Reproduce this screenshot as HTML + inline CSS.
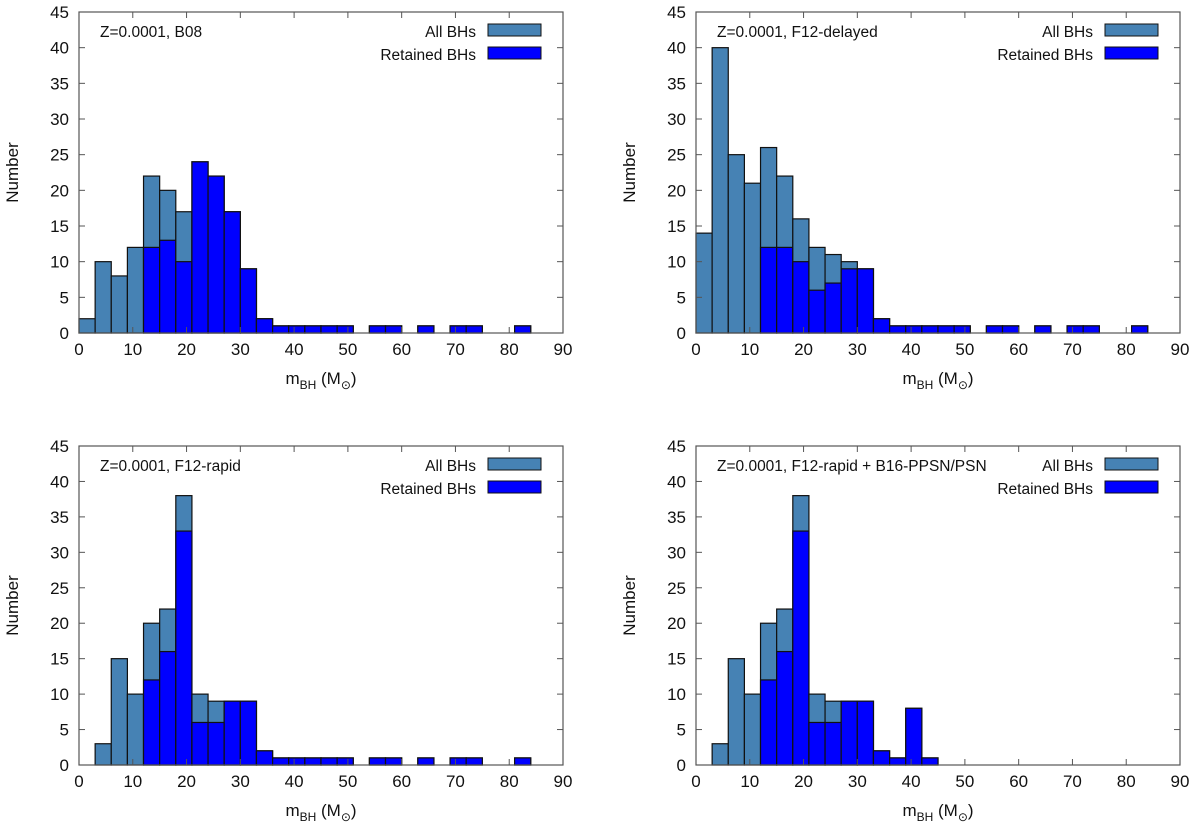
<!DOCTYPE html>
<html><head><meta charset="utf-8"><style>
body{margin:0;background:#fff;}
svg text{font-family:"Liberation Sans",sans-serif;}
</style></head><body>
<svg id="chart" width="1200" height="829" viewBox="0 0 1200 829" xmlns="http://www.w3.org/2000/svg"></svg>
<script>
const binStart = [0,3,6,9,12,15,18,21,24,27,30,33,36,39,42,45,48,51,54,57,60,63,66,69,72,75,78,81];
const allB08 =   [2,10,8,12,22,20,17,24,22,17,9,2,1,1,1,1,1,0,1,1,0,1,0,1,1,0,0,1];
const retB08 =   [0,0,0,0,12,13,10,24,22,17,9,2,1,1,1,1,1,0,1,1,0,1,0,1,1,0,0,1];
const allDel =   [14,40,25,21,26,22,16,12,11,10,9,2,1,1,1,1,1,0,1,1,0,1,0,1,1,0,0,1];
const retDel =   [0,0,0,0,12,12,10,6,7,9,9,2,1,1,1,1,1,0,1,1,0,1,0,1,1,0,0,1];
const allRap =   [0,3,15,10,20,22,38,10,9,9,9,2,1,1,1,1,1,0,1,1,0,1,0,1,1,0,0,1];
const retRap =   [0,0,0,0,12,16,33,6,6,9,9,2,1,1,1,1,1,0,1,1,0,1,0,1,1,0,0,1];
const allPsn =   [0,3,15,10,20,22,38,10,9,9,9,2,1,8,1,0,0,0,0,0,0,0,0,0,0,0,0,0];
const retPsn =   [0,0,0,0,12,16,33,6,6,9,9,2,1,8,1,0,0,0,0,0,0,0,0,0,0,0,0,0];
const binWidth = 3;
const xTicks = [0,10,20,30,40,50,60,70,80,90];
const yTicks = [0,5,10,15,20,25,30,35,40,45];
const titles = ["Z=0.0001, B08","Z=0.0001, F12-delayed","Z=0.0001, F12-rapid","Z=0.0001, F12-rapid + B16-PPSN/PSN"];

const NS="http://www.w3.org/2000/svg";
const svg=document.getElementById('chart');
function mk(tag,attrs,parent){const e=document.createElementNS(NS,tag);for(const k in attrs)e.setAttribute(k,attrs[k]);(parent||svg).appendChild(e);return e;}

function panel(idx,L,R,T,B,all,ret){
  const g=mk('g',{});
  
  
  const xs=v=>L+(v/90)*(R-L);
  const ys=v=>B-(v/45)*(B-T);
  for(let i=0;i<binStart.length;i++){
    if(all[i]>0){
      const r=mk('rect',{x:xs(binStart[i]),y:ys(all[i]),width:xs(binStart[i]+binWidth)-xs(binStart[i]),height:B-ys(all[i]),fill:'#4682b4',stroke:'#111','stroke-width':1.2},g);
      
      
    }
    if(ret[i]>0){
      const r=mk('rect',{x:xs(binStart[i]),y:ys(ret[i]),width:xs(binStart[i]+binWidth)-xs(binStart[i]),height:B-ys(ret[i]),fill:'#0000ff',stroke:'#111','stroke-width':1.2},g);
      
      
    }
  }
  const fr=mk('rect',{x:L,y:T,width:R-L,height:B-T,fill:'none',stroke:'#555','stroke-width':1.2},g);
  
  
  xTicks.forEach(v=>{
    const x=xs(v);
    mk('line',{x1:x,y1:B,x2:x,y2:B-6,stroke:'#555'},g);
    mk('line',{x1:x,y1:T,x2:x,y2:T+6,stroke:'#555'},g);
    const t=mk('text',{x:x,y:B+22,'text-anchor':'middle','font-size':17,fill:'#111'},g);
    t.textContent=v;
    
    
  });
  yTicks.forEach(v=>{
    const y=ys(v);
    mk('line',{x1:L,y1:y,x2:L+6,y2:y,stroke:'#555'},g);
    mk('line',{x1:R,y1:y,x2:R-6,y2:y,stroke:'#555'},g);
    const t=mk('text',{x:L-10,y:y+6,'text-anchor':'end','font-size':17,fill:'#111'},g);
    t.textContent=v;
    
    
  });
  const ti=mk('text',{x:L+21,y:T+25,'font-size':15.5,fill:'#111'},g);
  ti.textContent=titles[idx];
  
  
  const l1=mk('text',{x:R-87,y:T+25,'text-anchor':'end','font-size':15.5,fill:'#111'},g);
  l1.textContent='All BHs';
  
  
  const b1=mk('rect',{x:R-75,y:T+12,width:53,height:12,fill:'#4682b4',stroke:'#111'},g);
  
  
  const l2=mk('text',{x:R-87,y:T+48,'text-anchor':'end','font-size':15.5,fill:'#111'},g);
  l2.textContent='Retained BHs';
  
  
  const b2=mk('rect',{x:R-75,y:T+35,width:53,height:12,fill:'#0000ff',stroke:'#111'},g);
  
  
  const xl=mk('text',{x:(L+R)/2,y:B+51,'text-anchor':'middle','font-size':17,fill:'#111'},g);
  xl.innerHTML='m<tspan font-size="12" dy="5">BH</tspan><tspan dy="-5"> (M</tspan><tspan font-size="12" dy="5">⊙</tspan><tspan dy="-5">)</tspan>';
  
  
  const cy=(T+B)/2;
  const yl=mk('text',{x:L-61,y:cy,'text-anchor':'middle','font-size':17,fill:'#111',transform:'rotate(-90 '+(L-61)+' '+cy+')'},g);
  yl.textContent='Number';
  
  
}
panel(0,79,563,12,333,allB08,retB08);
panel(1,696,1180,12,333,allDel,retDel);
panel(2,79,563,446,765,allRap,retRap);
panel(3,696,1180,446,765,allPsn,retPsn);
</script>
</body></html>
